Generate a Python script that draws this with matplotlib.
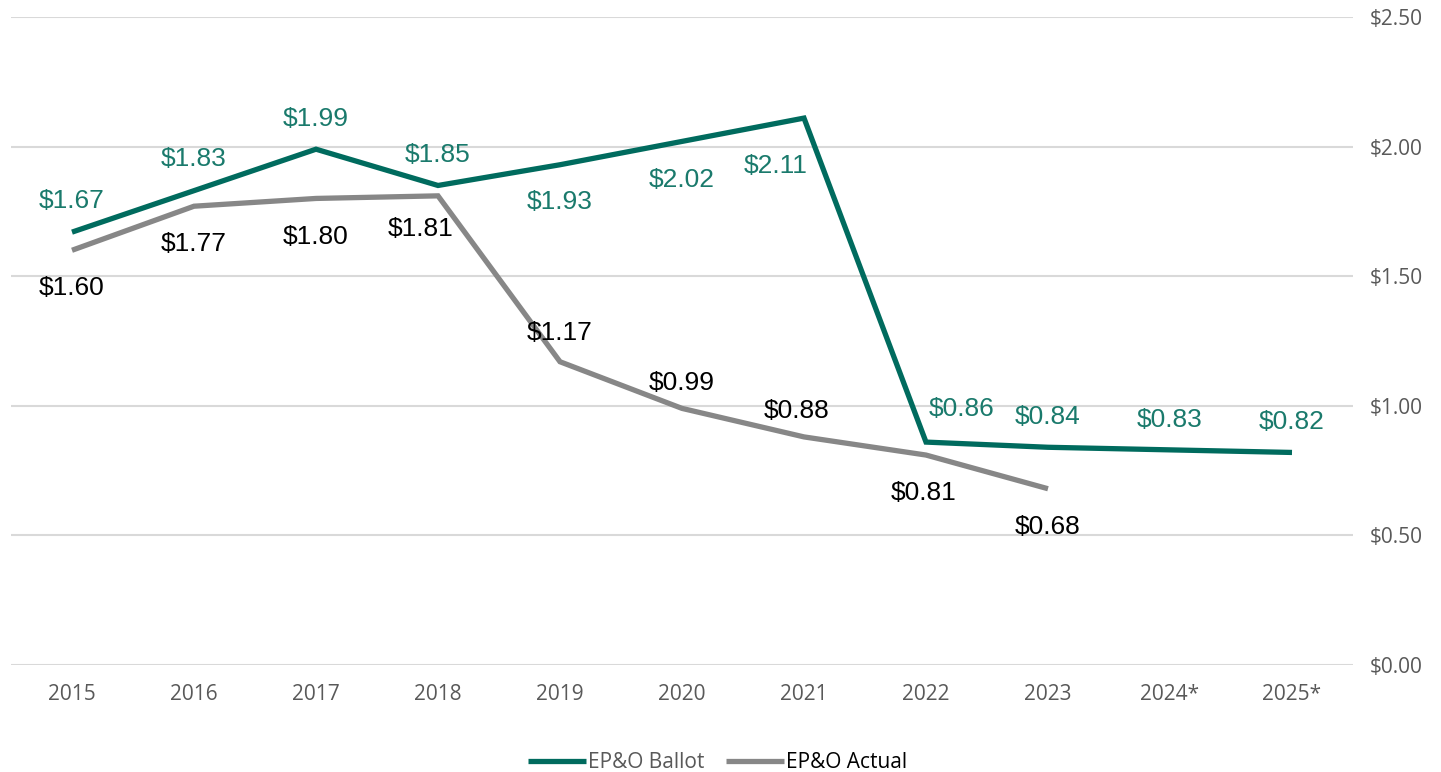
import matplotlib.pyplot as plt
import numpy as np

# data
years = ["2015", "2016", "2017", "2018", "2019", "2020", "2021", "2022", "2023", "2024*", "2025*"]
ballot = [1.67, 1.83, 1.99, 1.85, 1.93, 2.02, 2.11, 0.86, 0.84, 0.83, 0.82]
actual = [1.60, 1.77, 1.80, 1.81, 1.17, 0.99, 0.88, 0.81, 0.68]
yticks = [0.0, 0.5, 1.0, 1.5, 2.0, 2.5]

# label offsets in pixels (dx, dy) relative to each point
ballot_off = [(0, 31), (0, 32), (0, 30), (0, 30), (0, -37), (0, -39), (-28, -48), (36, 33), (0, 30), (0, 30), (0, 30)]
actual_off = [(0, -38), (0, -38), (0, -39), (-17, -33), (0, 29), (0, 25), (-7, 26), (-2, -38), (0, -38)]

teal = "#006B5E"
teal_lbl = "#1A7A6C"
grey = "#878787"
tick_col = "#595959"

fig = plt.figure(figsize=(14.41, 7.72), dpi=100)
ax = fig.add_axes([11 / 1441, 1 - 665 / 772, (1353 - 11) / 1441, (665 - 17) / 772])

x = np.arange(len(years))
ln_b, = ax.plot(x, ballot, color=teal, lw=3.8, solid_capstyle="butt", solid_joinstyle="miter", zorder=3)
ln_a, = ax.plot(x[:len(actual)], actual, color=grey, lw=3.8, solid_capstyle="butt", solid_joinstyle="miter", zorder=3)

for i, v in enumerate(ballot):
    ax.annotate(f"${v:.2f}", (x[i], v), xytext=ballot_off[i], textcoords="offset pixels",
                ha="center", va="center", fontsize=19, color=teal_lbl, family="Liberation Sans")
for i, v in enumerate(actual):
    ax.annotate(f"${v:.2f}", (x[i], v), xytext=actual_off[i], textcoords="offset pixels",
                ha="center", va="center", fontsize=19, color="black", family="Liberation Sans")

ax.set_xlim(-0.5, len(years) - 0.5)
ax.set_ylim(0, 2.5)
ax.set_xticks(x)
ax.set_xticklabels(years, family="Open Sans", fontsize=15, color=tick_col)
ax.set_yticks(yticks)
ax.set_yticklabels([f"${t:.2f}" for t in yticks], family="Open Sans", fontsize=15, color=tick_col)
ax.yaxis.tick_right()
ax.tick_params(axis="both", length=0)
ax.tick_params(axis="x", pad=14)
ax.tick_params(axis="y", pad=12)
ax.grid(axis="y", color="#D9D9D9", lw=1.5)
ax.set_axisbelow(True)
for s in ax.spines.values():
    s.set_visible(False)

leg = fig.legend([ln_b, ln_a], ["EP&O Ballot", "EP&O Actual"], loc="center",
                 bbox_to_anchor=(0.498, 1 - 763 / 772), ncol=2, frameon=False,
                 prop={"family": "Open Sans", "size": 15}, handlelength=2.8,
                 handletextpad=0.1, columnspacing=1.0)
leg.get_texts()[0].set_color(tick_col)
leg.get_texts()[1].set_color("black")

fig.savefig("out.png", dpi=100)
